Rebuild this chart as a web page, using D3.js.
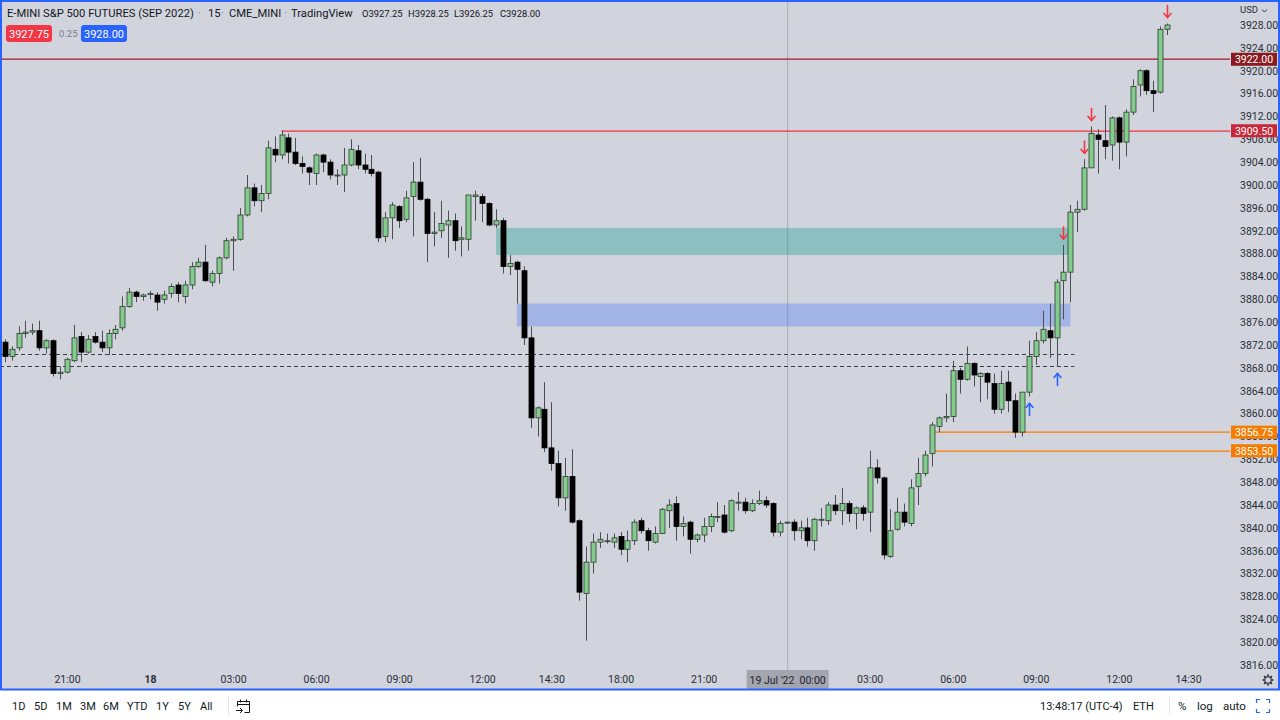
<!DOCTYPE html>
<html><head><meta charset="utf-8">
<script src="https://cdn.jsdelivr.net/npm/d3@7"></script>
<style>body{margin:0;background:#fff;overflow:hidden}svg{display:block;font-family:Roboto,"Noto Sans",sans-serif}</style>
</head><body><svg id="c" width="1280" height="720"></svg>
<script>
// ---- data (15-minute bars, ES Sep 2022) ----
const opens=[3872.5,3870,3871.5,3874,3874.25,3874.5,3871.5,3872.75,3867,3867.25,3869.25,3873.5,3870.75,3873.5,3872.5,3871.5,3874,3875,3878.75,3881.25,3880.5,3881,3880.75,3880,3881,3882.5,3880.5,3882.5,3885.75,3886.5,3883,3884.5,3887.25,3890.25,3890.5,3894.75,3899.5,3897.25,3898.5,3906.25,3905.25,3908.25,3905.75,3903.75,3903,3902,3905.25,3904,3901.75,3901.75,3903.5,3906,3903.5,3902.75,3902.25,3891,3894.25,3896.25,3894,3898,3900.5,3897.5,3891.5,3892,3893,3893.75,3890.5,3890.5,3898,3898,3896.75,3893,3893.75,3885.75,3886.5,3885,3873.25,3859.25,3860.75,3854,3851.25,3845.25,3849,3841.25,3828.5,3834,3837.5,3837.75,3837.5,3838.5,3836.25,3837.75,3841.25,3839.5,3837.5,3839,3843,3844.25,3840.25,3841,3838,3838.75,3840.25,3842,3842.25,3839.5,3844.5,3844.5,3843,3844.25,3844.75,3844.25,3839.25,3841,3841,3839.5,3840,3837.75,3841.5,3841.25,3844,3843,3844.25,3842.5,3843.5,3842.75,3850.5,3848.75,3835,3839.75,3842.75,3840.75,3847.25,3849.5,3853,3857.75,3859.25,3859.5,3867.5,3866,3868.75,3866.5,3867,3865.25,3860.75,3865.5,3862.25,3856.75,3863.75,3870,3872.75,3874.5,3873.25,3883.25,3884.75,3895.25,3895.75,3903,3908.75,3907.75,3907,3911.75,3907.5,3912.75,3917.5,3920,3916.5,3916.25,3927.25];
const highs=[3873,3871.75,3875.25,3876.25,3875.75,3876.25,3873,3873,3868.25,3869.75,3875.5,3874.25,3873.75,3874.25,3874.5,3874.75,3875.5,3880.5,3882,3881.5,3881,3881.5,3881.25,3881.5,3882.75,3883,3883.25,3886.5,3887.25,3889.5,3885,3887.5,3890.75,3891,3896,3901.75,3900.25,3900,3907.75,3908.5,3909.5,3909,3908.25,3905,3903.25,3905.5,3905.5,3904.5,3902.75,3906.5,3908,3907,3905.5,3905.25,3902.5,3895.25,3897,3896.5,3899,3904,3904.75,3897.75,3895.25,3897.25,3895.5,3895,3892.75,3898.25,3899,3898.5,3897,3895.75,3894.25,3887.75,3886.75,3885.75,3875.25,3861.25,3865.5,3862,3853.5,3852.25,3853.75,3841.5,3836.75,3839,3839.25,3839,3839,3839.25,3839.5,3841.5,3841.75,3840,3840.25,3843.5,3845,3845.5,3842,3841.25,3839,3841.75,3842.5,3844.5,3844,3845,3846.25,3845.25,3845,3846.5,3845.5,3844.5,3841.25,3841,3841.5,3841.25,3841.75,3841.75,3843.5,3844.5,3845.75,3847,3844.75,3843.75,3844,3853.5,3852,3849,3843.25,3845.25,3844.25,3848.5,3852.25,3853.5,3858.5,3859.5,3863.5,3869.25,3868,3871.75,3869,3867.25,3867.25,3867,3867.5,3867.5,3863.5,3863.75,3872.75,3874.25,3878,3879.25,3883.5,3889.5,3896.5,3897.25,3904.5,3910.25,3909.75,3914,3912,3912,3913.25,3918.5,3920.25,3920.25,3918.25,3927.75,3928.25];
const lows=[3869,3869.25,3871,3873.25,3873.75,3871,3870.5,3866.5,3866,3867,3869,3869,3870.5,3872.25,3870.75,3870.25,3873,3874.5,3878.5,3879.5,3879.75,3880,3878,3879.25,3880.25,3879.5,3879.25,3881.75,3885.5,3883,3882.25,3882.75,3887,3885,3890.25,3894.5,3896.25,3895.25,3897.5,3904,3904.5,3903.75,3903.5,3902,3900,3900,3902.25,3901,3900,3898.75,3903.25,3902.75,3902,3901.5,3890,3890,3890.5,3892.5,3893.5,3891,3897.25,3886.5,3889.25,3890.75,3887.25,3888.5,3887.5,3888.5,3893.75,3893.5,3892.75,3892.5,3884.5,3884.25,3879.25,3872,3857.5,3856,3853.25,3850,3843.75,3843,3840.75,3827.25,3820.25,3832,3836.5,3837.25,3836.5,3835.25,3834,3837,3839,3836,3837.25,3839,3840,3837.75,3838.5,3835.5,3837.5,3837.5,3839.25,3841,3839,3839.25,3843,3842.5,3842.75,3844,3843.5,3838.5,3838.5,3840.75,3837.75,3838,3836.75,3836,3840.25,3840.5,3842.25,3840.5,3841,3839.75,3841.25,3839.25,3847.75,3834.5,3834.75,3839.5,3840.25,3840.25,3844,3849,3850.75,3856.75,3858.5,3858.5,3863.5,3865.75,3864.75,3862,3862.5,3860,3860,3860.25,3855.75,3856,3863,3868.5,3872.25,3869.75,3868.25,3876.5,3879.5,3891.75,3895.5,3903,3902,3904.5,3904.25,3902.75,3905,3912.25,3915.5,3915.75,3912.75,3916,3926.25];
const closes=[3870,3871.25,3874,3874.25,3874.5,3871.5,3872.75,3867,3867.25,3869.5,3873.25,3870.75,3873,3872.5,3871.5,3874,3874.75,3878.75,3881.25,3880.5,3880.75,3881,3879.5,3880.75,3882.25,3881,3882.5,3885.75,3886.5,3883.25,3884.5,3887.25,3890.25,3890.5,3894.75,3899.5,3897.25,3898.5,3906.5,3905.25,3908.75,3905.75,3903.75,3903.25,3902.25,3905.25,3904,3901.75,3901.75,3903.5,3906.25,3903.5,3902.75,3902,3890.75,3894.25,3896.5,3893.75,3897.75,3900.5,3897.5,3891.5,3891.75,3893.25,3893.75,3890.25,3890.75,3898.25,3898.25,3896.75,3893,3893.75,3885.75,3886.25,3885.25,3873.25,3859.25,3861,3854,3851.25,3845.25,3849,3841,3828.75,3834,3837.5,3838,3837.75,3838.25,3836.25,3837.75,3841,3839.5,3837.75,3839,3843.25,3844,3840.25,3840.75,3838,3838.75,3840.25,3842,3842,3839.25,3844.75,3844.5,3843,3844.25,3844.75,3844,3839.25,3840.75,3841,3839.5,3840,3837.75,3841.5,3841.5,3844,3843,3844.25,3842.5,3843.5,3842.5,3850.5,3848.75,3835.25,3839.5,3842.75,3841,3847,3849.5,3852.75,3858,3859.25,3859.5,3867.5,3866,3868.75,3866.75,3867,3865.5,3860.75,3865.25,3862.25,3856.75,3863.75,3870,3872.75,3874.75,3873.25,3883,3884.75,3895.25,3895.75,3903,3909,3908,3906.75,3911.75,3907.5,3912.75,3917.25,3920,3916.5,3916,3927.25,3928];

const priceTicks=[3816,3820,3824,3828,3832,3836,3840,3844,3848,3852,3856,3860,3864,3868,3872,3876,3880,3884,3888,3892,3896,3900,3904,3908,3912,3916,3920,3924,3928];
const timeTickIdx=[9,21,33,45,57,69,79,89,101,125,137,149,161,171];
const timeTickLabels=["21:00","18","03:00","06:00","09:00","12:00","14:30","18:00","21:00","03:00","06:00","09:00","12:00","14:30"];
const crossIdx=113, crossLabel="19 Jul '22  00:00";

const levelPrices=[3922,3909.5,3856.75,3853.5];
const levelStartIdx=[-1,40,134,134];
const levelColors=["#a01824","#f0323e","#ff7b00","#ff7b00"];
const levelTagColors=["#8b1a20","#c8283a","#f57c00","#f57c00"];

const zoneTop=[3892.5,3879.25];
const zoneBottom=[3887.75,3875.25];
const zoneStartIdx=[71,74];
const zoneEndIdx=[154,154];
const zoneColors=["rgba(0,150,136,0.33)","rgba(41,98,255,0.28)"];

const dashedLevels=[3870.5,3868.25];
const dashedEndIdx=154;

const downSignals=[153,156,157,168];
const upSignals=[148,152];

const headerParts=["E-MINI S&P 500 FUTURES (SEP 2022)","·","15","·","CME_MINI","·","TradingView"];
const ohlcKeys=["O","H","L","C"];
const lastOHLC=["3927.25","3928.25","3926.25","3928.00"];

// ---- drawing ----
const svg=d3.select("#c");
const W=1280,H=720,plotR=1230,paneB=690;
const x=d3.scaleLinear().domain([0,168]).range([4.7,4.7+6.92*168]);
const y=d3.scaleLinear().domain([3816,3928]).range([665,25]);

svg.append("rect").attr("width",W).attr("height",H).attr("fill","#ffffff");
svg.append("rect").attr("x",0).attr("y",0).attr("width",W).attr("height",paneB).attr("fill","#d1d4dc");

const defs=svg.append("defs");
defs.append("clipPath").attr("id","plot").append("rect").attr("x",0).attr("y",0).attr("width",plotR).attr("height",paneB);
const g=svg.append("g").attr("clip-path","url(#plot)");

// crosshair vertical
g.append("line").attr("x1",x(crossIdx)+1).attr("x2",x(crossIdx)+1).attr("y1",0).attr("y2",670)
 .attr("stroke","#a9acb4").attr("stroke-width",1);

// zones
zoneTop.forEach((t,i)=>{
  g.append("rect").attr("x",x(zoneStartIdx[i])).attr("y",y(t))
   .attr("width",x(zoneEndIdx[i])-x(zoneStartIdx[i])).attr("height",y(zoneBottom[i])-y(t))
   .attr("fill",zoneColors[i]);
});

// dashed levels
dashedLevels.forEach(p=>{
  g.append("line").attr("x1",0).attr("x2",x(dashedEndIdx)+4).attr("y1",Math.round(y(p))+0.5).attr("y2",Math.round(y(p))+0.5)
   .attr("stroke","#3b3e46").attr("stroke-width",1).attr("stroke-dasharray","4,3");
});

// horizontal levels
levelPrices.forEach((p,i)=>{
  const x1=levelStartIdx[i]<0?0:x(levelStartIdx[i]);
  g.append("line").attr("x1",x1).attr("x2",plotR).attr("y1",Math.round(y(p))).attr("y2",Math.round(y(p)))
   .attr("stroke",levelColors[i]).attr("stroke-width",1.25);
});

// candles
const idx=d3.range(opens.length);
const cg=g.append("g");
cg.selectAll("line.w").data(idx).join("line").attr("class","w")
  .attr("x1",i=>Math.round(x(i))+0.5).attr("x2",i=>Math.round(x(i))+0.5)
  .attr("y1",i=>y(highs[i])).attr("y2",i=>y(lows[i]))
  .attr("stroke","#4a4d52").attr("stroke-width",1);
cg.selectAll("rect.b").data(idx).join("rect").attr("class","b")
  .attr("x",i=>Math.round(x(i))-2)
  .attr("y",i=>y(Math.max(opens[i],closes[i])))
  .attr("width",5)
  .attr("height",i=>Math.max(1,Math.abs(y(opens[i])-y(closes[i]))))
  .attr("fill",i=>closes[i]>=opens[i]?"#82cc8c":"#000000")
  .attr("stroke",i=>closes[i]>=opens[i]?"#2f3a30":"#000000")
  .attr("stroke-width",0.8);

// signal arrows
function arrow(cx,top,down,color){
  const len=12;
  const p=g.append("g").attr("stroke",color).attr("stroke-width",1.6).attr("fill","none").attr("stroke-linecap","round");
  p.append("line").attr("x1",cx).attr("x2",cx).attr("y1",top).attr("y2",top+len);
  if(down) p.append("path").attr("d",`M${cx-3.5},${top+len-4}L${cx},${top+len}L${cx+3.5},${top+len-4}`);
  else p.append("path").attr("d",`M${cx-3.5},${top+4}L${cx},${top}L${cx+3.5},${top+4}`);
}
downSignals.forEach(i=>arrow(Math.round(x(i))+0.5,y(highs[i])-18,true,"#f23645"));
upSignals.forEach(i=>arrow(Math.round(x(i))+0.5,y(lows[i])+7,false,"#2962ff"));

// price axis
const ya=svg.append("g").attr("transform",`translate(${1236},0)`)
  .call(d3.axisRight(y).tickValues(priceTicks).tickFormat(d3.format(".2f")).tickSize(0).tickPadding(4));
ya.select(".domain").remove();
ya.selectAll("text").attr("font-size",10.5).attr("fill","#2a2e39").attr("font-family","Roboto,sans-serif");
svg.append("text").attr("x",1240).attr("y",13).attr("font-size",9.5).attr("fill","#2a2e39").text("USD");
svg.append("path").attr("d","M1262,9.5l2.5,2.5l2.5,-2.5").attr("stroke","#2a2e39").attr("fill","none").attr("stroke-width",1);

// level tags
levelPrices.forEach((p,i)=>{
  const yy=y(p);
  svg.append("rect").attr("x",1231).attr("y",yy-6.5).attr("width",46).attr("height",13).attr("fill",levelTagColors[i]);
  svg.append("text").attr("x",1254).attr("y",yy+4).attr("text-anchor","middle").attr("font-size",10.5)
    .attr("fill","#ffffff").text(d3.format(".2f")(p));
});

// time axis
const xa=svg.append("g").attr("transform",`translate(0,${672})`)
  .call(d3.axisBottom(x).tickValues(timeTickIdx).tickFormat((d,i)=>timeTickLabels[i]).tickSize(0).tickPadding(4));
xa.select(".domain").remove();
xa.selectAll("text").attr("font-size",10.5).attr("fill","#2a2e39").attr("font-family","Roboto,sans-serif")
  .attr("font-weight",(d,i)=>timeTickLabels[i].length<=2?"bold":"normal");
// crosshair time label
const cx0=x(crossIdx)+1;
svg.append("rect").attr("x",cx0-41).attr("y",670).attr("width",82).attr("height",19).attr("fill","#a3a6af");
svg.append("text").attr("x",cx0).attr("y",684).attr("text-anchor","middle").attr("font-size",10.5).attr("fill","#1e222d")
  .attr("xml:space","preserve").text(crossLabel);

// gear icon
const gear=svg.append("g").attr("transform","translate(1268,680)").attr("stroke","#2a2e39").attr("fill","none").attr("stroke-width",1.1);
gear.append("circle").attr("r",3.2);
d3.range(8).forEach(k=>{const a=k*Math.PI/4;gear.append("line").attr("x1",3.4*Math.cos(a)).attr("y1",3.4*Math.sin(a)).attr("x2",5.4*Math.cos(a)).attr("y2",5.4*Math.sin(a)).attr("stroke-width",1.8);});

// pane border
svg.append("rect").attr("x",1).attr("y",1).attr("width",W-2).attr("height",paneB-1.5).attr("fill","none").attr("stroke","#2962ff").attr("stroke-width",2);

// header (separate text pieces)
const hX=[7,198,208,221,229,284,291];
headerParts.forEach((t,i)=>{
  svg.append("text").attr("x",hX[i]).attr("y",17).attr("font-size",11.2)
    .attr("fill",t==="·"?"#787b86":"#131722").text(t);
});
const oX=[362,408,454,500];
ohlcKeys.forEach((k,i)=>{
  svg.append("text").attr("x",oX[i]).attr("y",17).attr("font-size",9.4).attr("fill","#131722").text(k+lastOHLC[i]);
});

svg.append("rect").attr("x",6).attr("y",25).attr("width",46).attr("height",17).attr("rx",3).attr("fill","#f23645");
svg.append("text").attr("x",29).attr("y",37.5).attr("text-anchor","middle").attr("font-size",11).attr("fill","#fff").text("3927.75");
svg.append("text").attr("x",59).attr("y",37).attr("font-size",9.5).attr("fill","#787b86").text("0.25");
svg.append("rect").attr("x",81).attr("y",25).attr("width",46).attr("height",17).attr("rx",3).attr("fill","#2962ff");
svg.append("text").attr("x",104).attr("y",37.5).attr("text-anchor","middle").attr("font-size",11).attr("fill","#fff").text("3928.00");

// bottom toolbar
const ranges=["1D","5D","1M","3M","6M","YTD","1Y","5Y","All"];
const rangeX=[12,34,56,80,103,127,156,178,200];
ranges.forEach((r,i)=>svg.append("text").attr("x",rangeX[i]).attr("y",710).attr("font-size",11).attr("fill","#131722").text(r));
svg.append("line").attr("x1",228.5).attr("x2",228.5).attr("y1",697).attr("y2",715).attr("stroke","#e0e3eb");
const cal=svg.append("g").attr("stroke","#131722").attr("fill","none").attr("stroke-width",1);
cal.append("path").attr("d","M237.5,701.5h12v11h-5 M237.5,701.5v5 M237.5,704.5h12 M240.5,699.5v3 M246.5,699.5v3 M236,710.5h6 M240,708l2.5,2.5l-2.5,2.5");
svg.append("text").attr("x",1040).attr("y",710).attr("font-size",11).attr("fill","#131722").text("13:48:17 (UTC-4)");
svg.append("text").attr("x",1133).attr("y",710).attr("font-size",11).attr("fill","#131722").text("ETH");
svg.append("line").attr("x1",1169.5).attr("x2",1169.5).attr("y1",697).attr("y2",715).attr("stroke","#e0e3eb");
svg.append("text").attr("x",1178).attr("y",710).attr("font-size",11.5).attr("fill","#131722").text("%");
svg.append("text").attr("x",1197).attr("y",710).attr("font-size",11.5).attr("fill","#131722").text("log");
svg.append("text").attr("x",1223).attr("y",710).attr("font-size",11.5).attr("fill","#131722").text("auto");
svg.append("path").attr("d","M1256.5,703v-3.5h3.5 M1266,699.5h3.5v3.5 M1269.5,709v3.5h-3.5 M1260,712.5h-3.5v-3.5")
  .attr("stroke","#2962ff").attr("fill","none").attr("stroke-width",1.2);
</script></body></html>
